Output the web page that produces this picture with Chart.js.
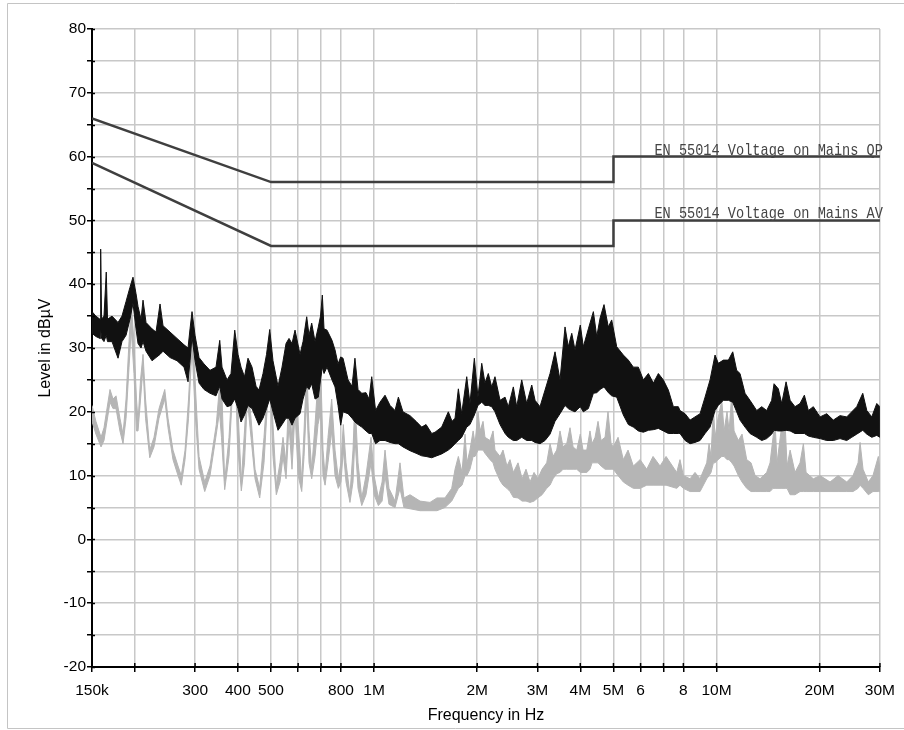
<!DOCTYPE html>
<html>
<head>
<meta charset="utf-8">
<title>Conducted emission</title>
<script src="https://cdn.jsdelivr.net/npm/chart.js@4.4.1/dist/chart.umd.min.js"></script>
<style>
  html, body { margin: 0; padding: 0; background: #fff; }
  #wrap { position: relative; width: 904px; height: 730px; }
</style>
</head>
<body>
<div id="wrap"><canvas id="emiChart"></canvas></div>
<script>
// frequency axis ticks (MHz) and their labels
const freqTicks = [0.15, 0.2, 0.3, 0.4, 0.5, 0.6, 0.7, 0.8, 1, 2, 3, 4, 5, 6, 7, 8, 10, 20, 30];
const freqTickLabels = ['150k', '', '300', '400', '500', '', '', '800', '1M', '2M', '3M', '4M', '5M', '6', '', '8', '10M', '20M', '30M'];

// EN 55014 limit lines
const limitFreq = [0.15, 0.5, 5, 5, 30];
const limitQp = [66, 56, 56, 60, 60];
const limitAv = [59, 46, 46, 50, 50];
const limitLabels = ['EN 55014 Voltage on Mains QP', 'EN 55014 Voltage on Mains AV'];

// peak detector trace, read as upper / lower envelope (dBuV)
const peakFreq = [
  0.15, 0.154, 0.1583, 0.159, 0.16, 0.1626, 0.1651, 0.1665, 0.1716, 0.1787,
  0.1835, 0.1886, 0.1936, 0.1976, 0.2017, 0.2044, 0.2086, 0.2114, 0.2157, 0.2246,
  0.2307, 0.237, 0.2418, 0.2535, 0.2657, 0.2785, 0.2861, 0.29, 0.2939, 0.2999,
  0.3081, 0.3186, 0.3317, 0.3453, 0.3541, 0.3596, 0.3719, 0.382, 0.3917, 0.4004,
  0.4086, 0.4183, 0.4282, 0.44, 0.452, 0.4611, 0.4737, 0.485, 0.4956, 0.5066,
  0.524, 0.5383, 0.553, 0.5642, 0.5757, 0.5875, 0.6076, 0.62, 0.6355, 0.6455,
  0.6572, 0.6721, 0.6871, 0.6973, 0.7059, 0.714, 0.7285, 0.7534, 0.7688, 0.7845,
  0.7987, 0.8114, 0.8391, 0.8619, 0.879, 0.8974, 0.9201, 0.9469, 0.9663, 0.984,
  1.01, 1.04, 1.076, 1.113, 1.151, 1.177, 1.214, 1.273, 1.326, 1.377,
  1.418,
  1.473, 1.506, 1.575, 1.647, 1.689, 1.723, 1.762, 1.802, 1.864, 1.905,
  1.962, 2.01, 2.062, 2.107, 2.155, 2.205, 2.254, 2.332, 2.412, 2.466,
  2.55, 2.609, 2.698, 2.79, 2.886, 2.951, 3.051, 3.156, 3.264, 3.375,
  3.49, 3.61, 3.69, 3.777, 3.861, 4.0, 4.083, 4.223, 4.368, 4.468,
  4.57, 4.692, 4.83, 4.941, 5.11, 5.343, 5.526, 5.715, 5.911, 6.113,
  6.323, 6.539, 6.762, 6.993, 7.233, 7.48, 7.734, 7.82, 8.093, 8.37,
  8.652, 8.95, 9.257, 9.573, 9.899, 10.12, 10.47, 10.83, 11.15, 11.45,
  11.71, 12.11, 12.52, 13.1, 13.55, 14.01, 14.49, 14.72, 15.15, 15.5,
  15.96, 16.4, 16.95, 17.53, 18.05, 18.54, 19.17, 20.06, 20.98, 21.93,
  22.94, 24.0, 24.82, 25.67, 26.73, 27.47, 28.4, 29.37, 30
];
const peakHi = [
  35.7, 35, 34.5, 45.5, 34.5, 35, 41.9, 34.5, 35, 34,
  35, 37.3, 39.5, 41.1, 38.5, 36.5, 34.5, 37.5, 34, 33,
  32.5, 36.9, 33.5, 32.5, 31.5, 30.5, 30, 33, 35.7, 32,
  28.5, 27.5, 26.5, 27, 31.2, 27, 25, 26, 32.8, 29,
  27, 25.5, 28.4, 27, 24, 23.4, 26, 29, 32.9, 28,
  24, 27, 30.7, 31.5, 30.7, 32.8, 29, 31, 34.9, 32,
  33.9, 31, 33.3, 35, 38.3, 33, 32.8, 31.2, 29.7, 27.5,
  28.6, 28.4, 25, 24, 28.4, 23.5, 22.9, 23, 22, 25.5,
  20.2, 21.5, 22.6, 21, 20.2, 22.3, 20, 19.4, 18.5, 17.6,
  18,
  16.6, 16.8, 17.6, 20, 18.5, 19, 23.6, 19.7, 25.5, 21.3,
  28.4, 22.3, 27.6, 24.5, 26, 23.9, 25.5, 21.8, 22.3, 20.8,
  23.9, 20.8, 25, 21.3, 24.2, 21.8, 20.8, 23.4, 26, 29.4,
  25, 33.3, 30.2, 32.3, 29.7, 33.6, 30.2, 33, 35.7, 31.8,
  34.7, 36.8, 33.3, 34.4, 30.2, 28.9, 28.1, 27, 27, 25,
  26, 24.5, 26, 25, 23.4, 20.8, 20.8, 20.2, 19.7, 18.7,
  19.2, 19.7, 22.3, 25, 28.9, 27.6, 28.1, 28.1, 29.4, 26.5,
  26, 22.9, 21.8, 20.2, 20.8, 20.2, 21.8, 24.4, 23.6, 21.3,
  24.7, 21.8, 20.8, 21.3, 22.6, 20.2, 20.8, 19.2, 19.7, 18.7,
  19.4, 19.2, 20, 20.8, 22.9, 20.2, 19.2, 21.3, 20.8
];
const peakLo = [
  32.3, 31.8, 31.5, 33, 31.5, 31, 32, 31, 31, 28.4,
  31, 32, 34.5, 37, 33, 30.7, 30, 31, 29.5, 28,
  28.5, 29, 29.5, 28.5, 28, 27, 24.7, 28, 31.8, 28,
  24.5, 23.5, 22.9, 22.5, 24, 22, 20.8, 21, 22, 20.5,
  18.4, 19.5, 21, 20.5, 19, 17.9, 19, 20.5, 22, 20,
  17.1, 18, 19, 19, 17.9, 19, 19.7, 22, 24, 23.5,
  24.4, 22, 22.3, 25, 27, 26, 27, 25, 23.9, 21,
  17.9, 20, 19.7, 19, 18.4, 18, 17.6, 17, 16.6, 16.6,
  15, 15.5, 15.5, 15.2, 15, 15, 14.5, 13.9, 13.5, 13.1,
  13,
  12.8, 13, 13.4, 14, 14.5, 15, 15.5, 16, 17.6, 18,
  19.5, 21, 21.5, 21, 21, 20.8, 20, 18, 16.6, 16,
  15.5, 15.5, 16, 15.5, 15.5, 15.2, 15, 15.5, 16.5, 18.5,
  19.7, 21, 20.5, 20.2, 20, 20.8, 20, 20.5, 22.9, 23,
  23.5, 23.9, 23, 22.5, 22.3, 19.5, 18, 17.6, 17, 16.8,
  17.1, 17.2, 17.4, 17, 16.6, 16.6, 16.6, 16.6, 15.5, 15,
  15.2, 15.5, 16.6, 17.6, 20.2, 21, 21.8, 21.8, 21.5, 20,
  18.7, 17.6, 16.6, 16, 15.5, 15.8, 16.5, 17.1, 17, 17,
  17.1, 17, 16.6, 16.6, 16.6, 16.2, 16, 15.8, 15.5, 15.5,
  15.8, 15.5, 16, 16.5, 17.1, 16.5, 16, 16.3, 16
];

// average detector trace, upper / lower envelope (dBuV)
const avgFreq = [
  0.15, 0.154, 0.1594, 0.1626, 0.1693, 0.1728, 0.1763, 0.181, 0.1848, 0.1886,
  0.1924, 0.1953, 0.1989, 0.2023, 0.2044, 0.2079, 0.2114, 0.215, 0.2212, 0.2276,
  0.2354, 0.2447, 0.2501, 0.2586, 0.2675, 0.2734, 0.2804, 0.2871, 0.2939, 0.2999,
  0.3081, 0.3201, 0.3317, 0.346, 0.3535, 0.3583, 0.3661, 0.3769, 0.3917, 0.399,
  0.4094, 0.4183, 0.4263, 0.437, 0.449, 0.4633, 0.4769, 0.4956, 0.5066, 0.518,
  0.531, 0.5419, 0.553, 0.5642, 0.5757, 0.5875, 0.6, 0.6146, 0.6242, 0.6355,
  0.6455, 0.6572, 0.6721, 0.6856, 0.6973, 0.7092, 0.719, 0.7333, 0.7518, 0.7688,
  0.7861, 0.8, 0.8129, 0.8278, 0.85, 0.8676, 0.879, 0.8974, 0.9201, 0.9469,
  0.9795, 1.0, 1.029, 1.055, 1.076, 1.105, 1.151, 1.19, 1.222, 1.273,
  1.362, 1.456, 1.526,
  1.61, 1.685, 1.723, 1.762, 1.806, 1.843, 1.867, 1.905, 1.946, 1.971,
  2.011, 2.039, 2.08, 2.107, 2.18, 2.225, 2.254, 2.332, 2.379, 2.443,
  2.494, 2.55, 2.632, 2.705, 2.777, 2.853, 2.931, 3.006, 3.093, 3.192,
  3.264, 3.33, 3.414, 3.49, 3.562, 3.651, 3.733, 3.81, 3.906, 4.0,
  4.075, 4.178, 4.27, 4.33, 4.418, 4.507, 4.6, 4.725, 4.82, 4.92,
  4.995, 5.157, 5.343, 5.515, 5.715, 5.98, 6.254, 6.525, 6.84, 7.122,
  7.652, 7.82, 8.0, 8.37, 8.652, 8.95, 9.361, 9.509, 9.636, 9.788,
  9.899, 10.1, 10.36, 10.52, 10.73, 10.88, 11.08, 11.25, 11.58, 11.87,
  12.25, 12.61, 12.96, 13.4, 14.01, 14.33, 14.62, 14.82, 15.02, 15.43,
  15.86, 16.07, 16.4, 16.95, 17.53, 17.93, 18.26, 19.17, 20.06, 21.45,
  22.64, 24.0, 25.03, 25.9, 26.25, 26.78, 27.75, 28.63, 29.68, 30
];
const avgHi = [
  21, 18.5, 16, 17.5, 23.5, 22, 22.5, 19, 16.5, 22,
  31, 37, 31, 22, 18.5, 25, 29, 22, 14, 16,
  20.5, 23.5, 19, 14, 11.5, 10, 14, 22, 32, 25,
  13, 9, 11.5, 18, 24, 25, 9.2, 16, 31.5, 22,
  9, 17, 25, 19, 11, 8, 16, 29, 18, 8.5,
  12, 16, 12, 24, 15, 26, 18, 9, 17, 27.5,
  17, 11, 18, 25, 28, 14, 10, 16, 22, 14,
  9.5, 12, 18, 12, 7, 14, 22, 12, 6.5, 10,
  16, 10, 6.5, 9, 14, 8, 6, 12, 6.5, 7,
  6, 5.8, 6.5,
  6.5, 8, 11, 13, 10.5, 16.5, 12, 14, 17, 15,
  20, 17, 18.5, 16, 15.5, 17, 14, 13, 14, 11.5,
  12.5, 10.5, 12, 9.5, 11, 9, 10.5, 9.5, 11, 12,
  15, 13, 14, 17, 14.5, 15, 17.5, 14.5, 14, 16.5,
  14, 14, 17, 15, 16, 18.5, 15.5, 16, 20, 15,
  14.5, 16, 12.5, 14, 11.5, 12.5, 11, 13, 11.5, 13,
  10.5, 12.5, 10, 9.5, 10.5, 9.5, 12, 15, 13, 20.8,
  16, 19, 21.8, 17, 20, 17, 22.9, 17, 15.5, 16.5,
  12.5, 12, 10, 9.5, 10.5, 12, 16, 18.4, 12, 17,
  18, 11.5, 14, 10.5, 12, 15, 10.5, 9.5, 10, 9,
  10, 9, 10, 12, 15.2, 11, 9, 10, 13, 11
];
const avgLo = [
  18.5, 16.5, 14.5, 15.5, 21.5, 20.5, 20.5, 17, 15, 19,
  27, 33, 26, 17, 17, 22, 27, 19, 12.8, 14.5,
  19, 22, 17.5, 12.5, 10, 8.5, 12.5, 19, 30.5, 20,
  11, 7.5, 10, 16.5, 20, 16, 7.8, 13, 29.5, 15,
  7.6, 12, 22, 16, 9.5, 6.5, 12, 27.5, 13, 7,
  9, 13, 9.5, 18, 11, 20, 10, 7.5, 13, 22,
  12, 9.5, 13, 18, 20, 10, 8.5, 12, 17, 10,
  8, 9, 14, 9, 5.8, 9, 16, 8, 5.3, 7,
  12, 7, 5.3, 6, 10, 5.5, 5, 8, 5, 4.8,
  4.5, 4.5, 4.5,
  5, 6, 7, 8, 8.5, 10, 10, 11, 13, 13,
  14, 14, 14, 13.5, 12.5, 12, 11, 9.2, 8.5, 8,
  7.5, 6.6, 6.5, 6, 6, 5.8, 6, 6.5, 7, 8,
  8.5, 9.5, 10.3, 10.5, 11, 11, 11, 11, 11, 10.5,
  10.5, 10.5, 11, 12, 12, 12, 11.5, 11, 11, 11,
  11, 10, 9, 8.5, 8, 8, 8.5, 8.5, 8.5, 8.5,
  8, 8.5, 8, 7.5, 7.5, 7.5, 9.5, 10, 10.5, 12,
  12, 12.5, 13, 13, 12.5, 12.5, 12, 11.5, 10, 9,
  8, 7.5, 7.5, 7.5, 7.5, 7.5, 8, 8, 8, 8,
  8, 8, 7, 7, 7.5, 7.5, 7.5, 7.5, 7.5, 7.5,
  7.5, 7.5, 7.5, 8, 8.5, 8, 7, 7.5, 7.5, 7.5
];

const FONT = "'Liberation Sans', Arial, sans-serif";

function toPoints(xs, ys) {
  const n = Math.min(xs.length, ys.length);
  const pts = [];
  for (let i = 0; i < n; i++) pts.push({ x: xs[i], y: ys[i] });
  return pts;
}

// light frame round the picture, short inner tick stubs, limit line captions
const decorPlugin = {
  id: 'decor',
  beforeDraw(chart) {
    const ctx = chart.ctx;
    ctx.save();
    ctx.fillStyle = '#fff';
    ctx.fillRect(0, 0, chart.width, chart.height);
    ctx.strokeStyle = '#c4c4c4';
    ctx.lineWidth = 1;
    ctx.beginPath();
    ctx.moveTo(chart.width, 3.5);
    ctx.lineTo(7.5, 3.5);
    ctx.lineTo(7.5, 728.5);
    ctx.lineTo(chart.width, 728.5);
    ctx.stroke();
    ctx.restore();
  },
  afterDatasetsDraw(chart) {
    const ctx = chart.ctx;
    const xs = chart.scales.x;
    const ys = chart.scales.y;
    const rightX = xs.getPixelForValue(limitFreq[limitFreq.length - 1]) + 3;
    const levels = [limitQp[limitQp.length - 1], limitAv[limitAv.length - 1]];
    ctx.save();
    ctx.fillStyle = '#454545';
    ctx.font = "17px 'Liberation Mono', 'DejaVu Sans Mono', monospace";
    ctx.textAlign = 'right';
    ctx.textBaseline = 'alphabetic';
    levels.forEach((lv, i) => {
      ctx.save();
      ctx.translate(rightX, ys.getPixelForValue(lv) - 2);
      ctx.scale(0.8, 1);
      ctx.fillText(limitLabels[i], 0, 0);
      ctx.restore();
    });
    ctx.restore();
  },
  afterDraw(chart) {
    const ctx = chart.ctx;
    const area = chart.chartArea;
    ctx.save();
    ctx.strokeStyle = '#000';
    ctx.lineWidth = 1.5;
    ctx.beginPath();
    chart.scales.y.ticks.forEach(t => {
      const py = Math.round(chart.scales.y.getPixelForValue(t.value)) + 0.5;
      ctx.moveTo(area.left, py);
      ctx.lineTo(area.left + 3, py);
    });
    chart.scales.x.ticks.forEach(t => {
      const px = chart.scales.x.getPixelForValue(t.value);
      ctx.moveTo(px, area.bottom);
      ctx.lineTo(px, area.bottom - 4);
    });
    ctx.stroke();
    ctx.restore();
  }
};

const lineBase = { pointRadius: 0, tension: 0, fill: false };

const chart = new Chart(document.getElementById('emiChart'), {
  type: 'line',
  data: {
    datasets: [
      { ...lineBase, label: 'QP limit', data: toPoints(limitFreq, limitQp), borderColor: '#3f3f3f', borderWidth: 2.5 },
      { ...lineBase, label: 'AV limit', data: toPoints(limitFreq, limitAv), borderColor: '#3f3f3f', borderWidth: 2.5 },
      { ...lineBase, label: 'Peak hi', data: toPoints(peakFreq, peakHi), borderColor: '#111', borderWidth: 1, fill: '+1', backgroundColor: '#111' },
      { ...lineBase, label: 'Peak lo', data: toPoints(peakFreq, peakLo), borderColor: '#111', borderWidth: 1 },
      { ...lineBase, label: 'Avg hi', data: toPoints(avgFreq, avgHi), borderColor: '#b5b5b5', borderWidth: 1, fill: '+1', backgroundColor: '#b5b5b5' },
      { ...lineBase, label: 'Avg lo', data: toPoints(avgFreq, avgLo), borderColor: '#b5b5b5', borderWidth: 1 }
    ]
  },
  options: {
    responsive: true,
    maintainAspectRatio: false,
    animation: false,
    devicePixelRatio: 1,
    events: [],
    layout: { padding: { left: 0, top: 29, right: 24, bottom: 0 } },
    plugins: {
      legend: { display: false },
      tooltip: { enabled: false }
    },
    scales: {
      x: {
        type: 'logarithmic',
        min: 0.15,
        max: 30,
        afterBuildTicks: scale => { scale.ticks = freqTicks.map(v => ({ value: v })); },
        afterFit: scale => { scale.height = 63; },
        ticks: {
          autoSkip: false,
          maxRotation: 0,
          minRotation: 0,
          padding: 9,
          color: '#000',
          font: { family: FONT, size: 15.5 },
          callback: (value, index) => freqTickLabels[index]
        },
        grid: { color: '#c8c8c8', lineWidth: 1.5, tickLength: 5, tickColor: '#000', tickWidth: 1.5 },
        border: { display: true, color: '#000', width: 2 },
        title: {
          display: true,
          text: 'Frequency in Hz',
          color: '#000',
          font: { family: FONT, size: 16 },
          padding: { top: 0, bottom: 4.4 }
        }
      },
      y: {
        type: 'linear',
        min: -20,
        max: 80,
        afterFit: scale => { scale.width = 92; },
        ticks: {
          stepSize: 5,
          padding: 1,
          color: '#000',
          font: { family: FONT, size: 15.5 },
          callback: v => (v % 10 === 0 ? String(v) : '')
        },
        grid: { color: '#c8c8c8', lineWidth: 1.5, tickLength: 5, tickColor: '#000', tickWidth: 1.5 },
        border: { display: true, color: '#000', width: 2 },
        title: {
          display: true,
          text: 'Level in dBµV',
          color: '#000',
          font: { family: FONT, size: 16 },
          padding: { top: 36.4, bottom: 0 }
        }
      }
    }
  },
  plugins: [decorPlugin]
});
</script>
</body>
</html>
